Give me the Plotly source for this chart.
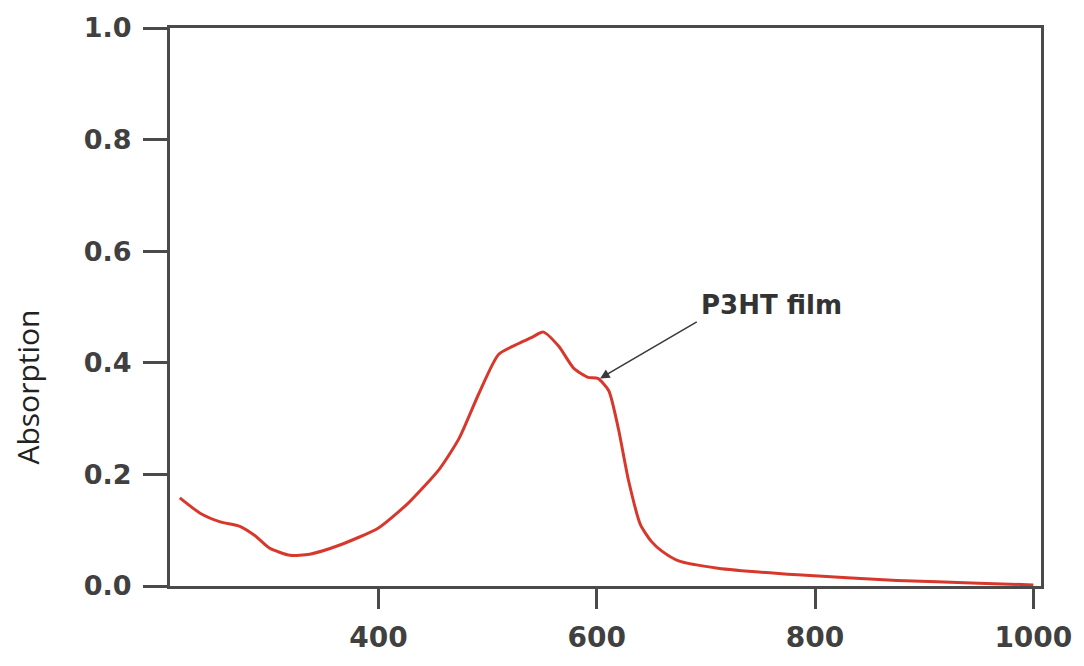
import plotly.graph_objects as go

wavelength = [218, 237, 255, 273, 287, 300, 319, 337, 364, 400, 428, 456, 474, 492,
              510, 529, 540, 551, 565, 579, 592, 601, 611, 620, 629, 640, 650, 660,
              675, 711, 784, 875, 950, 1000]
absorption = [0.158, 0.13, 0.115, 0.107, 0.09, 0.068, 0.055, 0.057, 0.073, 0.104, 0.15,
              0.21, 0.265, 0.345, 0.415, 0.435, 0.445, 0.455, 0.43, 0.39, 0.374, 0.372,
              0.35, 0.28, 0.19, 0.11, 0.08, 0.062, 0.045, 0.032, 0.02, 0.01, 0.005, 0.002]

x_ticks = [400, 600, 800, 1000]
y_ticks = [0.0, 0.2, 0.4, 0.6, 0.8, 1.0]
y_tick_labels = ["0.0", "0.2", "0.4", "0.6", "0.8", "1.0"]

fig = go.Figure()
fig.add_trace(go.Scatter(x=wavelength, y=absorption, mode="lines",
                         line=dict(color="#d8382c", width=3, shape="spline", smoothing=0.6),
                         showlegend=False))

fig.add_annotation(x=603, y=0.372, ax=693, ay=0.475, xref="x", yref="y", axref="x", ayref="y",
                   text="", showarrow=True, arrowhead=2, arrowsize=1.2, arrowwidth=1.6,
                   arrowcolor="#3a3a3a")
fig.add_annotation(x=760, y=0.503, xref="x", yref="y", text="P3HT film", showarrow=False,
                   font=dict(family="DejaVu Sans", size=26, color="#333333", weight="bold"))

fig.add_annotation(x=(27 - 170) / (1045 - 170), y=(590 - 388) / 566, xref="paper", yref="paper",
                   xanchor="center", yanchor="middle",
                   text="Absorption", showarrow=False, textangle=-90,
                   font=dict(family="Open Sans", size=30, color="#222222"))

axis_common = dict(showline=True, linecolor="#4a4a4a", linewidth=3, mirror=True,
                   ticks="outside", tickwidth=3, tickcolor="#4a4a4a",
                   showgrid=False, zeroline=False)

fig.update_xaxes(range=[209, 1007], tickvals=x_ticks, ticktext=[str(v) for v in x_ticks],
                 ticklen=20, ticklabelstandoff=4,
                 tickfont=dict(family="DejaVu Sans", size=28, color="#404040", weight="bold"),
                 **axis_common)
fig.update_yaxes(range=[0, 1], tickvals=y_ticks, ticktext=y_tick_labels,
                 ticklen=24, ticklabelstandoff=6,
                 tickfont=dict(family="DejaVu Sans", size=27, color="#404040", weight="bold"),
                 **axis_common)

fig.update_layout(width=1084, height=666, plot_bgcolor="white", paper_bgcolor="white",
                  margin=dict(l=170, r=39, t=24, b=76))

fig.write_html("out.html")
